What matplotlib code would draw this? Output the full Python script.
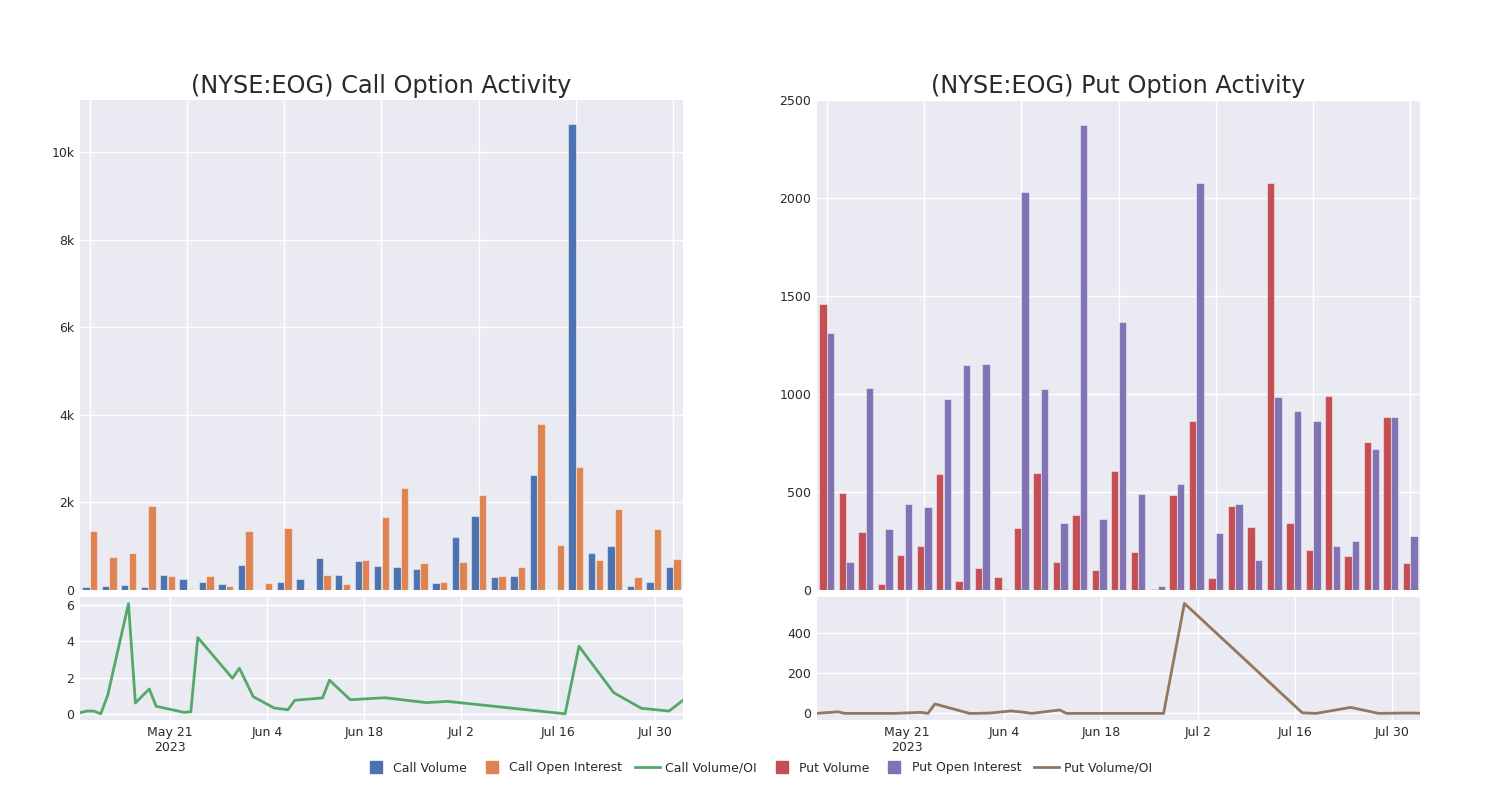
import numpy as np
import pandas as pd
import matplotlib
matplotlib.use('Agg')
import matplotlib.pyplot as plt
from matplotlib.lines import Line2D

# Daily volume / open interest, one value per bar group
call_volume = [70, 90, 120, 60, 340, 250, 180, 140, 570, 10, 180, 250, 730, 350, 660,
               540, 530, 480, 170, 1220, 1690, 300, 320, 2620, 10, 10640, 840, 1000, 80, 190, 520]
call_oi = [1350, 760, 850, 1920, 320, 20, 330, 100, 1350, 170, 1420, 30, 340, 130, 680,
           1660, 2320, 620, 190, 650, 2180, 330, 520, 3790, 1035, 2820, 690, 1860, 290, 1400, 710]
put_volume = [1459, 493, 297, 31, 180, 224, 593, 48, 110, 68, 316, 595, 141, 383, 100,
              605, 196, 4, 483, 862, 61, 430, 323, 2077, 343, 204, 991, 172, 753, 884, 138]
put_oi = [1311, 141, 1032, 311, 439, 423, 973, 1148, 1155, 7, 2031, 1027, 343, 2372, 361,
          1367, 490, 19, 542, 2077, 291, 439, 153, 986, 915, 862, 226, 248, 718, 884, 277]

# Volume / OI ratio series (dated)
ratio_dates = ['2023-05-08', '2023-05-09', '2023-05-10', '2023-05-11', '2023-05-12',
               '2023-05-15', '2023-05-16', '2023-05-18', '2023-05-19', '2023-05-23',
               '2023-05-24', '2023-05-25', '2023-05-30', '2023-05-31', '2023-06-02',
               '2023-06-05', '2023-06-07', '2023-06-08', '2023-06-12', '2023-06-13',
               '2023-06-16', '2023-06-21', '2023-06-27', '2023-06-30', '2023-07-17',
               '2023-07-19', '2023-07-24', '2023-07-28', '2023-08-01', '2023-08-03']
call_ratio = [0.09, 0.18, 0.18, 0.03, 1.04, 6.06, 0.62, 1.39, 0.44, 0.11,
              0.14, 4.21, 1.98, 2.53, 0.97, 0.35, 0.25, 0.77, 0.90, 1.87,
              0.80, 0.91, 0.64, 0.71, 0.03, 3.73, 1.19, 0.33, 0.18, 0.77]
put_ratio = [0, 3, 5, 8, 0, 0, 0, 0, 0, 5,
             0, 47, 0, 0, 2, 12, 5, 0, 17, 0,
             0, 0, 0, 548, 3, 0, 30, 0, 2, 1]

tick_dates = ['2023-05-21', '2023-06-04', '2023-06-18', '2023-07-02', '2023-07-16', '2023-07-30']
tick_labels = ['May 21\n2023', 'Jun 4', 'Jun 18', 'Jul 2', 'Jul 16', 'Jul 30']

bg = '#EAEAF2'
txt = '#2A2A2A'
plt.rcParams['font.family'] = ['DejaVu Sans']

fig = plt.figure(figsize=(15, 8), dpi=100)

dates = pd.to_datetime(ratio_dates)
ticks = pd.to_datetime(tick_dates)


def style(ax):
    ax.set_facecolor(bg)
    for s in ax.spines.values():
        s.set_visible(False)
    ax.grid(True, color='white', linewidth=1.0)
    ax.set_axisbelow(True)
    ax.tick_params(length=0, labelsize=9, colors=txt, pad=4)


def panel(left, vol, oi, c1, c2, ratio, c3, title, ylim, yticks, ylabels, rlim, rticks):
    w = 0.402
    ax = fig.add_axes([left, 0.2625, w, 0.6125])
    style(ax)
    x = np.arange(len(vol))
    ax.bar(x - 0.195, vol, width=0.38, color=c1, edgecolor=(1, 1, 1, 0.45), linewidth=0.8)
    ax.bar(x + 0.195, oi, width=0.38, color=c2, edgecolor=(1, 1, 1, 0.45), linewidth=0.8)
    ax.set_xlim(-0.5, len(vol) - 0.5)
    ax.set_xticks(np.arange(0, len(vol), 5))
    ax.set_xticklabels([])
    ax.set_ylim(*ylim)
    ax.set_yticks(yticks)
    ax.set_yticklabels(ylabels)
    ax.set_title(title, fontsize=17.3, color=txt, pad=5)

    ax2 = fig.add_axes([left, 0.1, w, 0.154])
    style(ax2)
    ax2.plot(dates, ratio, color=c3, linewidth=2)
    ax2.set_xlim(dates[0], dates[-1])
    ax2.set_xticks(ticks)
    ax2.set_xticklabels(tick_labels)
    ax2.set_ylim(*rlim)
    ax2.set_yticks(rticks)


panel(0.0533, call_volume, call_oi, '#4C72B0', '#DD8452', call_ratio, '#55A868',
      '(NYSE:EOG) Call Option Activity', (0, 11190),
      [0, 2000, 4000, 6000, 8000, 10000], ['0', '2k', '4k', '6k', '8k', '10k'],
      (-0.31, 6.44), [0, 2, 4, 6])
panel(0.5447, put_volume, put_oi, '#C44E52', '#8172B3', put_ratio, '#937860',
      '(NYSE:EOG) Put Option Activity', (0, 2500),
      [0, 500, 1000, 1500, 2000, 2500], ['0', '500', '1000', '1500', '2000', '2500'],
      (-33, 581), [0, 200, 400])

handles = [
    Line2D([], [], marker='s', linestyle='none', markersize=9, color='#4C72B0'),
    Line2D([], [], marker='s', linestyle='none', markersize=9, color='#DD8452'),
    Line2D([], [], color='#55A868', linewidth=2),
    Line2D([], [], marker='s', linestyle='none', markersize=9, color='#C44E52'),
    Line2D([], [], marker='s', linestyle='none', markersize=9, color='#8172B3'),
    Line2D([], [], color='#937860', linewidth=2),
]
labels = ['Call Volume', 'Call Open Interest', 'Call Volume/OI',
          'Put Volume', 'Put Open Interest', 'Put Volume/OI']
fig.legend(handles, labels, loc='center', bbox_to_anchor=(0.505, 0.04), ncol=6,
           frameon=False, fontsize=9, handlelength=2.0, handletextpad=0.4,
           columnspacing=1.0, labelcolor=txt)

fig.savefig('out.png', dpi=100, facecolor='white')
